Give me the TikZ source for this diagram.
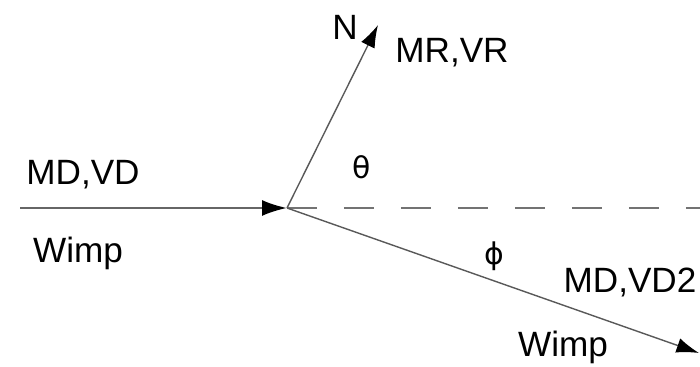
\documentclass[tikz,border=0pt]{standalone}
\usepackage{fontspec}
\setmainfont{Liberation Sans}
\newfontfamily\greekfont{DejaVu Sans}
\usetikzlibrary{arrows.meta}

\begin{document}
\begin{tikzpicture}[x=0.02cm, y=-0.02cm,
  track/.style={line width=0.8pt, draw=black!65, -{Latex[length=0.45cm, width=0.3cm, color=black]}},
  beam/.style={line width=1.3pt, draw=black!60, -{Latex[length=0.5cm, width=0.32cm, color=black]}},
  axis/.style={line width=1.3pt, draw=black!55, dash pattern=on 0.6cm off 0.54cm},
  lbl/.style={font=\fontsize{20}{24}\selectfont, inner sep=0pt},
  sym/.style={font=\greekfont\fontsize{17}{20}\selectfont, inner sep=0pt}
]
\useasboundingbox (0,0) rectangle (700,367);
% points
\coordinate (start) at (20,208);
\coordinate (hit) at (287,208);
\coordinate (ntip) at (378,25);
\coordinate (axend) at (700,208);
\coordinate (wtip) at (699,353);
% tracks
\draw[axis] (hit) -- (axend);
\draw[beam] (start) -- (hit);
\draw[track] (hit) -- (ntip);
\draw[track] (hit) -- (wtip);
% labels
\node[lbl] (inlbl) at (83,175) {MD,VD};
\node[lbl] (inwimp) at (78,253) {Wimp};
\node[lbl] (nlbl) at (345,27) {N};
\node[lbl] (rlbl) at (452,53) {MR,VR};
\node[sym] (theta) at (362,167) {θ};
\node[sym] (phi) at (494,256) {ϕ};
\node[lbl] (outlbl) at (630,282) {MD,VD2};
\node[lbl] (outwimp) at (563,347) {Wimp};
\end{tikzpicture}
\end{document}
